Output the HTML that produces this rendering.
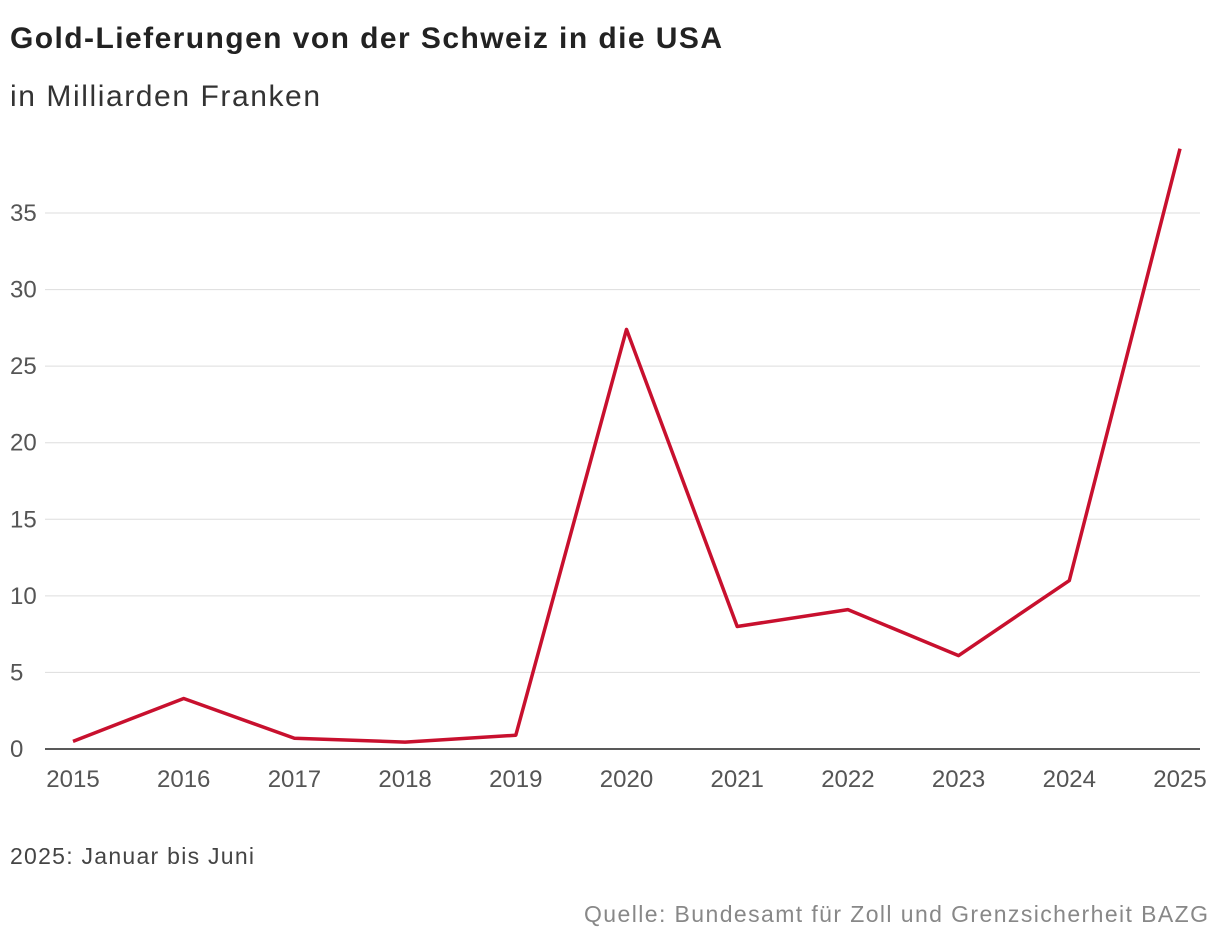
<!DOCTYPE html>
<html><head><meta charset="utf-8">
<style>
body{margin:0;background:#fff;font-family:"Liberation Sans",sans-serif;}
svg{display:block}
</style></head>
<body>
<svg width="1220" height="946">
<text x="10" y="48" font-size="30" font-weight="bold" fill="#222" textLength="712" lengthAdjust="spacing">Gold-Lieferungen von der Schweiz in die USA</text>
<text x="10" y="106" font-size="30" fill="#333" textLength="310" lengthAdjust="spacing">in Milliarden Franken</text>
<g id="grid"></g>
<g id="xt"></g>
<path id="line" fill="none" stroke="#c8102e" stroke-width="3.5" stroke-linejoin="round"/>
<text x="10" y="864" font-size="23" fill="#444" textLength="244" lengthAdjust="spacing">2025: Januar bis Juni</text>
<text x="584" y="922" font-size="23" fill="#888" textLength="624" lengthAdjust="spacing">Quelle: Bundesamt für Zoll und Grenzsicherheit BAZG</text>
</svg>
<script>
const years=[2015,2016,2017,2018,2019,2020,2021,2022,2023,2024,2025];
const values=[0.5,3.3,0.7,0.45,0.9,27.4,8.0,9.1,6.1,11.0,39.2];
const yTicks=[0,5,10,15,20,25,30,35];
const NS="http://www.w3.org/2000/svg";
const x=i=>73+i*(1180-73)/(years.length-1);
const y=v=>749-v*(749-213)/35;
const g=document.getElementById('grid');
yTicks.forEach(t=>{
  const l=document.createElementNS(NS,'line');
  l.setAttribute('x1',45);l.setAttribute('x2',1200);
  l.setAttribute('y1',y(t));l.setAttribute('y2',y(t));
  l.setAttribute('stroke',t===0?'#222':'#ddd');l.setAttribute('stroke-width',t===0?1.5:1);
  
  
  g.appendChild(l);
  const tx=document.createElementNS(NS,'text');
  tx.setAttribute('x',10);tx.setAttribute('y',y(t)+8);
  tx.setAttribute('font-size',24);tx.setAttribute('fill','#555');
  tx.textContent=t;
  
  
  g.appendChild(tx);
});
const xt=document.getElementById('xt');
years.forEach((yr,i)=>{
  const tx=document.createElementNS(NS,'text');
  tx.setAttribute('x',x(i));tx.setAttribute('y',787);
  tx.setAttribute('font-size',24);tx.setAttribute('fill','#555');
  tx.setAttribute('text-anchor','middle');
  tx.textContent=yr;
  
  
  xt.appendChild(tx);
});
document.getElementById('line').setAttribute('d',values.map((v,i)=>(i?'L':'M')+x(i)+','+y(v)).join(''));
</script>
</body></html>
